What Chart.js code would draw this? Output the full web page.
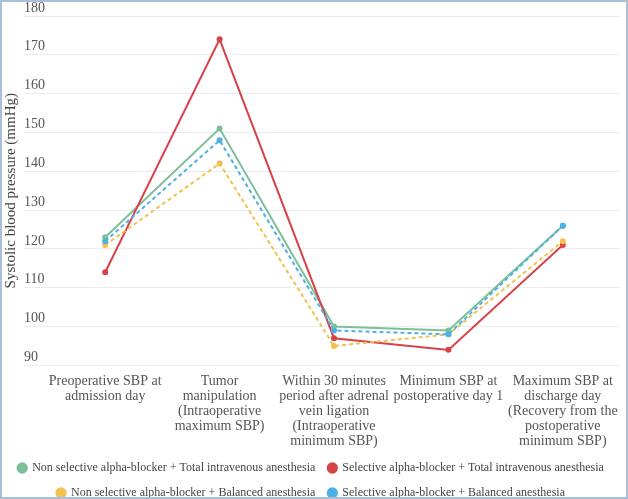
<!DOCTYPE html>
<html>
<head>
<meta charset="utf-8">
<script src="https://cdn.jsdelivr.net/npm/chart.js@4/dist/chart.umd.min.js"></script>
<style>
  html, body { margin: 0; padding: 0; background: #fff; }
  #frame { width: 628px; height: 499px; box-sizing: border-box; border: 2px solid #a9c0d8; position: relative; overflow: hidden; }
  #wrap { position: absolute; left: 0; top: 0; width: 624px; height: 495px; }
</style>
</head>
<body>
<div id="frame"><div id="wrap"><canvas id="c"></canvas></div></div>
<script>
const categories = [
  ["Preoperative SBP at", "admission day"],
  ["Tumor", "manipulation", "(Intraoperative", "maximum SBP)"],
  ["Within 30 minutes", "period after adrenal", "vein ligation", "(Intraoperative", "minimum SBP)"],
  ["Minimum SBP at", "postoperative day 1"],
  ["Maximum SBP at", "discharge day", "(Recovery from the", "postoperative", "minimum SBP)"]
];
const seriesNames = [
  "Non selective alpha-blocker + Total intravenous anesthesia",
  "Selective alpha-blocker + Total intravenous anesthesia",
  "Non selective alpha-blocker + Balanced anesthesia",
  "Selective alpha-blocker + Balanced anesthesia"
];
const nonSelTIVA = [123, 151, 100, 99, 126];
const selTIVA = [114, 174, 97, 94, 121];
const nonSelBal = [121, 142, 95, 98, 122];
const selBal = [122, 148, 99, 98, 126];
const yTicks = [90, 100, 110, 120, 130, 140, 150, 160, 170, 180];

const colors = ["#7dbf98", "#d8434a", "#f2c14e", "#4cb1e5"];
const values = [nonSelTIVA, selTIVA, nonSelBal, selBal];
const dashes = [[], [], [4, 3], [4, 3]];
const orders = [4, 3, 2, 1];

const serif = "'Liberation Serif', 'Times New Roman', serif";

new Chart(document.getElementById('c'), {
  type: 'line',
  data: {
    labels: categories,
    datasets: values.map((v, i) => ({
      label: seriesNames[i],
      data: v,
      borderColor: colors[i],
      backgroundColor: colors[i],
      pointBackgroundColor: colors[i],
      pointBorderColor: colors[i],
      borderWidth: 2,
      borderDash: dashes[i],
      pointRadius: 3,
      pointBorderWidth: 0,
      tension: 0,
      fill: false,
      order: orders[i]
    }))
  },
  options: {
    responsive: true,
    maintainAspectRatio: false,
    animation: false,
    layout: { padding: { left: 0, right: 6, top: 14, bottom: -12 } },
    plugins: {
      tooltip: { enabled: false },
      legend: {
        position: 'bottom',
        labels: {
          usePointStyle: true,
          pointStyle: 'circle',
          boxWidth: 8,
          boxHeight: 8,
          padding: 13,
          color: '#444',
          font: { family: serif, size: 12 },
          sort: (a, b) => a.datasetIndex - b.datasetIndex
        }
      }
    },
    scales: {
      x: {
        type: 'category',
        offset: true,
        grid: { display: false },
        border: { display: false },
        ticks: {
          color: '#555',
          font: { family: serif, size: 14, lineHeight: 1.08 },
          maxRotation: 0,
          autoSkip: false,
          padding: 0
        }
      },
      y: {
        min: 90,
        max: 180,
        afterBuildTicks: (axis) => { axis.ticks = yTicks.map(v => ({ value: v })); },
        grid: { color: '#ececec', lineWidth: 1, drawTicks: true, tickLength: 24, tickColor: '#ececec' },
        border: { display: false },
        ticks: {
          mirror: true,
          padding: -24,
          labelOffset: -8,
          color: '#555',
          font: { family: serif, size: 14 }
        },
        title: {
          display: true,
          text: 'Systolic blood pressure (mmHg)',
          color: '#444',
          font: { family: serif, size: 15 },
          padding: { top: 0, bottom: 52 }
        }
      }
    }
  }
});
</script>
</body>
</html>
